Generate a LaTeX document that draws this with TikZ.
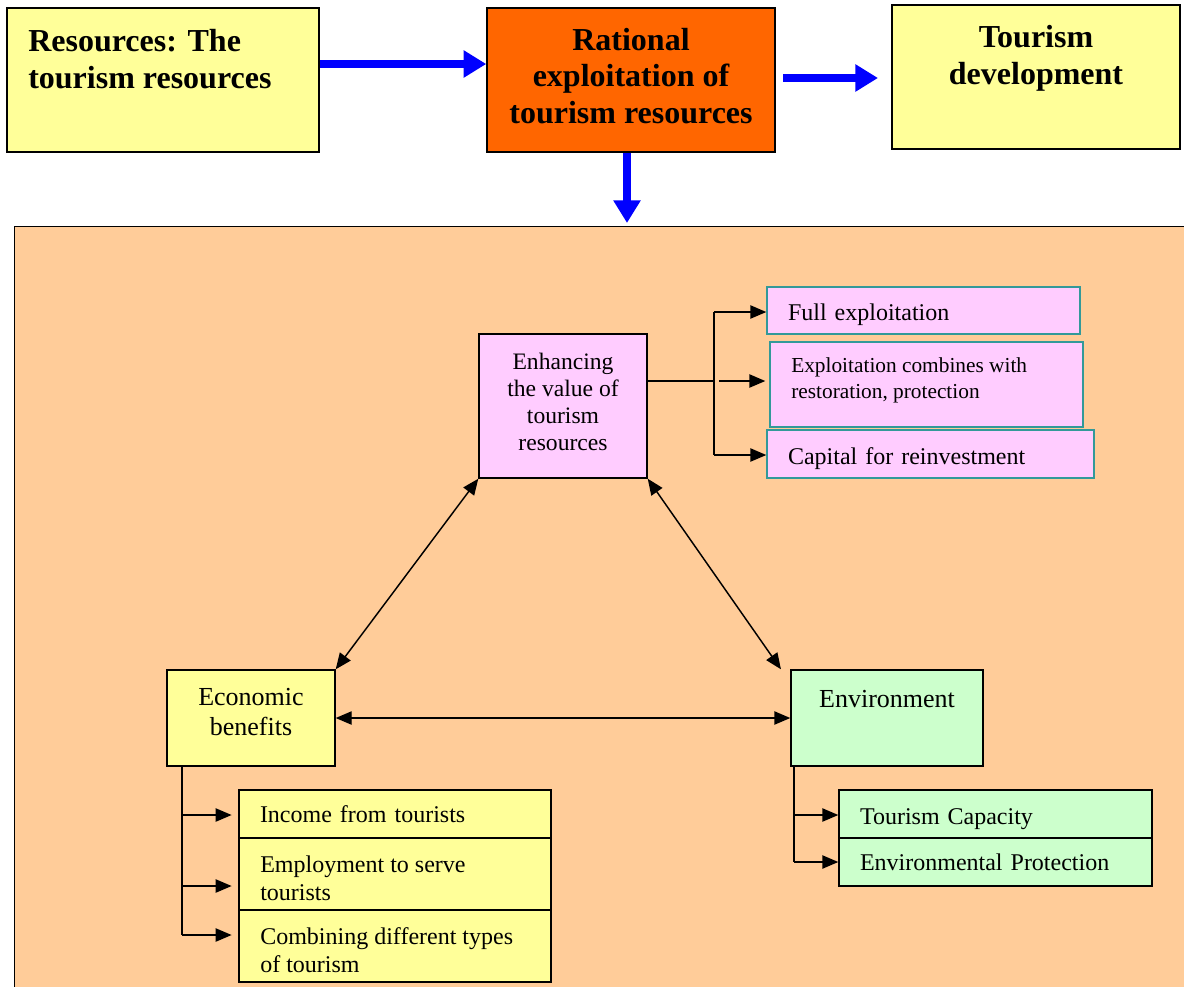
\documentclass[tikz,border=0pt]{standalone}
\usepackage{fontspec}
\setmainfont{Liberation Serif}
\usetikzlibrary{arrows.meta}
\definecolor{yel}{HTML}{FFFF99}
\definecolor{org}{HTML}{FF6600}
\definecolor{peach}{HTML}{FFCC99}
\definecolor{pnk}{HTML}{FFCCFF}
\definecolor{grn}{HTML}{CCFFCC}
\definecolor{teal2}{HTML}{339999}
\tikzset{
  box/.style={draw=black, line width=1.1pt, inner sep=0pt},
  bigtxt/.style={font=\fontsize{24}{27.5}\selectfont\bfseries},
  midtxt/.style={font=\fontsize{19.5}{22.5}\selectfont},
  enhtxt/.style={font=\fontsize{17.7}{20.25}\selectfont},
  subtxt/.style={font=\fontsize{18}{21}\selectfont},
  sub/.style={box, align=left, inner xsep=15.75pt, inner ysep=0pt, subtxt},
  one/.style={text depth=0pt, text height=15pt},
  pinksub/.style={sub, draw=teal2, fill=pnk},
  plain/.style={inner sep=0pt},
  bigarrow/.style={draw=blue, line width=6pt, -{Triangle[length=17pt,width=19.5pt]}},
  conn/.style={draw=black, line width=1.1pt},
  tip/.style={conn, -{Triangle[length=12pt,width=10pt]}},
  dtip/.style={conn, {Triangle[length=12pt,width=10pt]}-{Triangle[length=12pt,width=10pt]}}
}
\begin{document}
\begin{tikzpicture}[x=0.75pt,y=-0.75pt]
\useasboundingbox (0,0) rectangle (1184,986);
\clip (0,0) rectangle (1184,986);
\fill[white] (0,0) rectangle (1184,986);

% top row
\node[box, fill=yel, minimum width=234pt, minimum height=108pt] (A) at (163,80) {};
\node[plain, bigtxt, align=left, anchor=north west] (Atxt) at (28,29) {Resources: The\\tourism resources};
\node[box, fill=org, minimum width=216pt, minimum height=108pt] (B) at (631,80) {};
\node[plain, bigtxt, align=center] (Btxt) at (631,76) {Rational\\exploitation of\\tourism resources};
\node[box, fill=yel, minimum width=216pt, minimum height=108pt] (C) at (1036,77) {};
\node[plain, bigtxt, align=center, anchor=north] (Ctxt) at (1036,25) {Tourism\\development};

\coordinate (bc1) at (783,78);
\coordinate (bc2) at (878,78);
\coordinate (bd) at (627,223);
\draw[bigarrow] (A.east |- 0,64) -- (B.west |- 0,64);
\draw[bigarrow] (bc1) -- (bc2);

% panel
\node[draw=black, line width=1.1pt, fill=peach, minimum width=889.5pt, minimum height=580.5pt, anchor=north west, inner sep=0pt] (panel) at (14,226) {};
\draw[bigarrow] (B.south -| bd) -- (bd);

% enhancing
\node[box, fill=pnk, minimum width=126pt, minimum height=108pt] (Enh) at (563,406) {};
\node[plain, enhtxt, align=center] (EnhT) at (563,402) {Enhancing\\the value of\\tourism\\resources};

\node[pinksub, one, text width=203.25pt, minimum height=35.25pt] (Full) at (923.5,310.5) {Full exploitation};
\node[pinksub, minimum width=234.75pt, minimum height=63.75pt] (Exp) at (926.5,384.5) {};
\node[plain, align=left, anchor=west, font=\fontsize{16}{19.5}\selectfont] (ExpT) at (791,380) {Exploitation combines with\\restoration, protection};
\node[pinksub, one, text width=213.75pt, minimum height=36pt] (Cap) at (930.5,454) {Capital for reinvestment};

\coordinate (eb) at (714,381);
\coordinate (et) at (714,312);
\coordinate (ebot) at (714,455);
\coordinate (em) at (719,381);
\draw[conn] (Enh.east |- eb) -- (eb);
\draw[conn] (et) -- (ebot);
\draw[tip] (et) -- (Full.west |- et);
\draw[tip] (em) -- ([xshift=-3pt]Exp.west |- em);
\draw[tip] (ebot) -- (Cap.west |- ebot);

% economic & environment
\node[box, fill=yel, minimum width=126pt, minimum height=72pt] (Econ) at (251,718) {};
\node[plain, midtxt, align=center] (EconT) at (251,712) {Economic\\benefits};
\node[box, fill=grn, minimum width=144pt, minimum height=72pt] (Env) at (887,718) {};
\node[plain, midtxt, anchor=north] (EnvT) at (887,690) {Environment};

\draw[dtip] (Enh.south west) -- (Econ.north east);
\draw[dtip] (Enh.south east) -- ([xshift=-7pt]Env.north west);
\draw[dtip] (Econ.east) -- (Env.west);

% economic sub items
\node[sub, fill=yel, text width=202.5pt, minimum height=36pt] (Inc) at (395,814) {Income from tourists};
\node[sub, fill=yel, minimum width=234pt, minimum height=54pt] (Emp) at (395,874) {};
\node[plain, subtxt, align=left, anchor=west] (EmpT) at (260,878) {Employment to serve\\tourists};
\node[sub, fill=yel, minimum width=234pt, minimum height=54pt] (Comb) at (395,946) {};
\node[plain, subtxt, align=left, anchor=west] (CombT) at (260,950) {Combining different types\\of tourism};

\coordinate (x1) at (182,815);
\coordinate (x2) at (182,886);
\coordinate (x3) at (182,935);
\draw[conn] (Econ.south -| x1) -- (x3);
\draw[tip] (x1) -- ([xshift=-5pt]Inc.west |- x1);
\draw[tip] (x2) -- ([xshift=-5pt]Emp.west |- x2);
\draw[tip] (x3) -- ([xshift=-5pt]Comb.west |- x3);

% environment sub items
\node[sub, one, fill=grn, text width=203.25pt, minimum height=36pt] (TCap) at (995.5,814) {Tourism Capacity};
\node[sub, fill=grn, text width=203.25pt, minimum height=36pt] (EProt) at (995.5,862) {Environmental Protection};

\coordinate (y1) at (794,815);
\coordinate (y2) at (794,862);
\draw[conn] (Env.south -| y1) -- (y2);
\draw[tip] (y1) -- (TCap.west |- y1);
\draw[tip] (y2) -- (EProt.west |- y2);
\end{tikzpicture}
\end{document}
